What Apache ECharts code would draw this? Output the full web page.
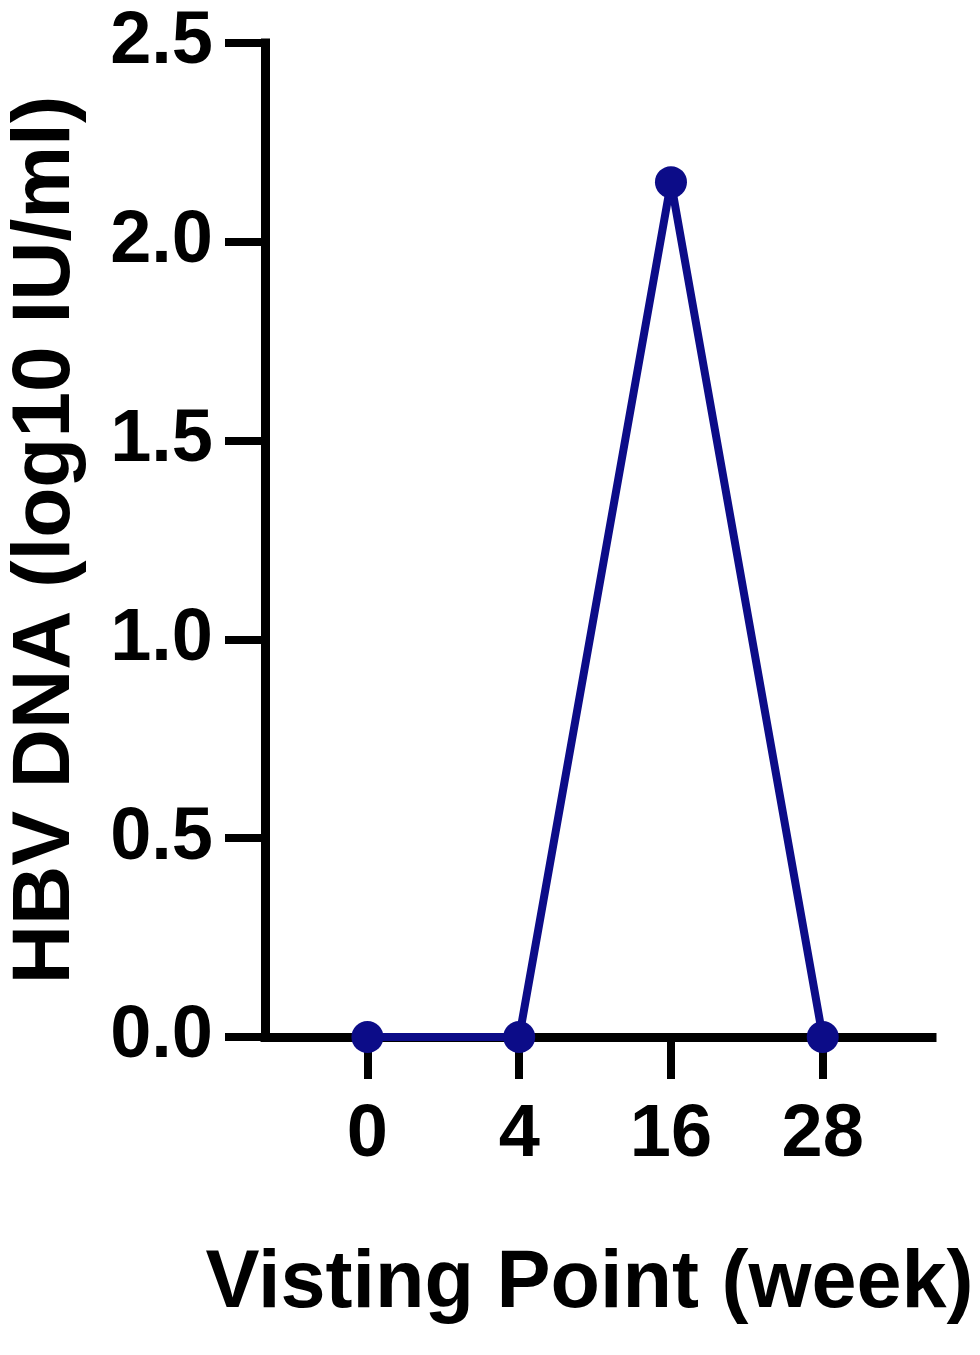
<!DOCTYPE html>
<html>
<head>
<meta charset="utf-8">
<script src="https://cdn.jsdelivr.net/npm/echarts@6/dist/echarts.min.js"></script>
<style>
  html, body { margin: 0; padding: 0; background: #fff; }
  #chart { width: 980px; height: 1355px; }
</style>
</head>
<body>
<div id="chart"></div>
<script>
// visit weeks on x, HBV DNA level on y
const categories = ['0', '4', '16', '28'];
const hbvDna = [0, 0, 2.15, 0];
const yTicks = [0, 0.5, 1.0, 1.5, 2.0, 2.5];

const FONT = 'Liberation Sans, Arial, Helvetica, sans-serif';
const BLACK = '#000';
const NAVY = '#0c0c88';

const chart = echarts.init(document.getElementById('chart'));

const axisLine = { show: true, onZero: false, lineStyle: { color: BLACK, width: 9, cap: 'square' } };
const labelStyle = { color: BLACK, fontFamily: FONT, fontWeight: 'bold', fontSize: 74 };
const nameStyle = { color: BLACK, fontFamily: FONT, fontWeight: 'bold', fontSize: 82 };

chart.setOption({
    animation: false,
    backgroundColor: '#fff',
    // names run to the page edge, so don't let v6 squeeze the grid
    grid: { left: 265, top: 43, right: 48, bottom: 318, containLabel: false, outerBoundsMode: 'none' },
    xAxis: {
        type: 'value',
        min: -0.675,
        max: 3.72,
        name: 'Visting Point (week)',
        nameLocation: 'middle',
        nameGap: 207,
        nameTextStyle: Object.assign({}, nameStyle, { fontSize: 81, padding: [0, 18, 0, 0] }),
        axisLine: axisLine,
        axisTick: { show: true, length: 42, lineStyle: { color: BLACK, width: 8 },
            customValues: categories.map((c, i) => i) },
        axisLabel: Object.assign({ margin: 62, showMinLabel: true, showMaxLabel: true,
            customValues: categories.map((c, i) => i),
            formatter: v => categories[Math.round(v)] }, labelStyle),
        splitLine: { show: false }
    },
    yAxis: {
        type: 'value',
        min: 0,
        max: 2.5,
        interval: 0.5,
        name: 'HBV DNA (log10 IU/ml)',
        nameLocation: 'middle',
        nameGap: 178,
        nameTextStyle: nameStyle,
        axisLine: axisLine,
        axisTick: { show: true, length: 40, lineStyle: { color: BLACK, width: 8 },
            customValues: yTicks },
        axisLabel: Object.assign({ margin: 52, customValues: yTicks,
            formatter: v => v.toFixed(1) }, labelStyle),
        splitLine: { show: false }
    },
    series: [{
        type: 'line',
        data: hbvDna.map((v, i) => [i, v]),
        clip: false,
        symbol: 'circle',
        symbolSize: 32,
        lineStyle: { color: NAVY, width: 8 },
        itemStyle: { color: NAVY },
        z: 5
    }]
});
</script>
</body>
</html>
